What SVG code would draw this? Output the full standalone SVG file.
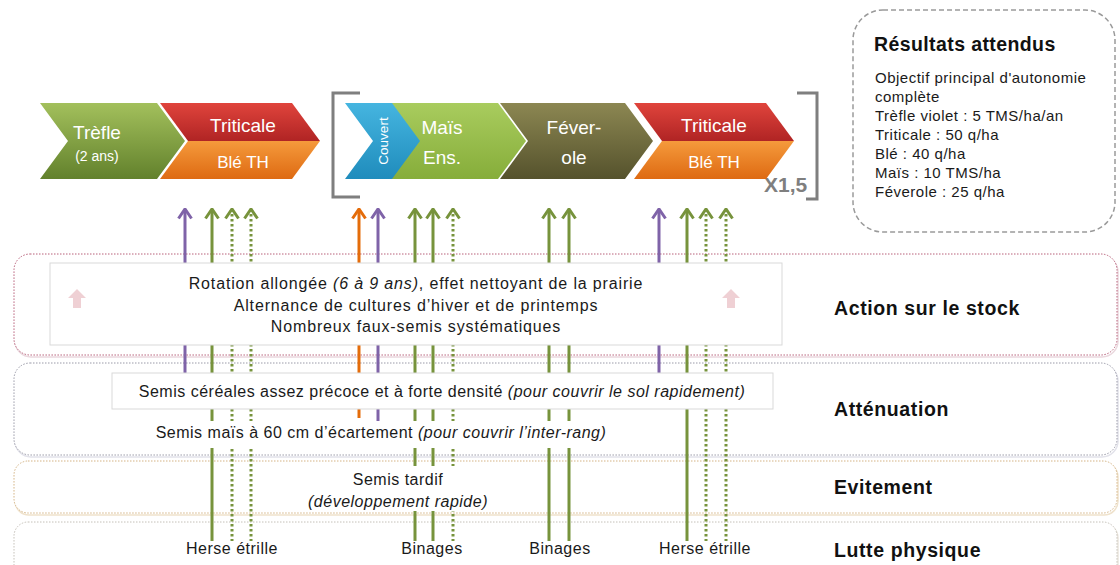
<svg xmlns="http://www.w3.org/2000/svg" width="1120" height="565" viewBox="0 0 1120 565">
<style>
text{font-family:"Liberation Sans",Arial,sans-serif;}
.w{fill:#fff;font-size:19px;text-anchor:middle;}
.ws{fill:#fff;font-size:14px;text-anchor:middle;}
.wb{fill:#fff;font-size:17px;text-anchor:middle;}
.t{fill:#1a1a1a;font-size:16px;letter-spacing:0.5px;text-anchor:middle;}
.t2{letter-spacing:0.85px;}
.r{fill:#1a1a1a;font-size:15px;letter-spacing:0.5px;}
.lab{fill:#111;font-size:19.5px;letter-spacing:0.6px;font-weight:bold;}
.box{fill:#fff;stroke:#d9d9d9;stroke-width:1;}
.cov{fill:#fff;}
.ap{stroke:#7f63a8;stroke-width:3;fill:none;marker-start:url(#hp);}
.ag{stroke:#77933c;stroke-width:3;fill:none;marker-start:url(#hg);}
.ao{stroke:#e46c0a;stroke-width:3;fill:none;marker-start:url(#ho);}
.ad{stroke:#77933c;stroke-width:3;fill:none;stroke-dasharray:2.5 2.5;marker-start:url(#hg);}
.pk{fill:#efd0d4;}
</style>
<defs>
<marker id="hp" viewBox="0 0 16 13" refX="8" refY="1.5" markerWidth="16" markerHeight="13" markerUnits="userSpaceOnUse" orient="0"><path d="M1.5,11 L8,1.5 L14.5,11" fill="none" stroke="#7f63a8" stroke-width="3"/></marker>
<marker id="hg" viewBox="0 0 16 13" refX="8" refY="1.5" markerWidth="16" markerHeight="13" markerUnits="userSpaceOnUse" orient="0"><path d="M1.5,11 L8,1.5 L14.5,11" fill="none" stroke="#77933c" stroke-width="3"/></marker>
<marker id="ho" viewBox="0 0 16 13" refX="8" refY="1.5" markerWidth="16" markerHeight="13" markerUnits="userSpaceOnUse" orient="0"><path d="M1.5,11 L8,1.5 L14.5,11" fill="none" stroke="#e46c0a" stroke-width="3"/></marker>
<linearGradient id="gGreen" x1="0" y1="0" x2="0" y2="1"><stop offset="0" stop-color="#a3c05c"/><stop offset="1" stop-color="#62812c"/></linearGradient>
<linearGradient id="gRed" x1="0" y1="0" x2="0" y2="1"><stop offset="0" stop-color="#e0443c"/><stop offset="1" stop-color="#b02424"/></linearGradient>
<linearGradient id="gOrange" x1="0" y1="0" x2="0" y2="1"><stop offset="0" stop-color="#f59a3c"/><stop offset="1" stop-color="#de6a12"/></linearGradient>
<linearGradient id="gBlue" x1="0" y1="0" x2="0" y2="1"><stop offset="0" stop-color="#45b5e0"/><stop offset="1" stop-color="#1f8cbc"/></linearGradient>
<linearGradient id="gLime" x1="0" y1="0" x2="0" y2="1"><stop offset="0" stop-color="#a9cc5e"/><stop offset="1" stop-color="#86ad3a"/></linearGradient>
<linearGradient id="gOlive" x1="0" y1="0" x2="0" y2="1"><stop offset="0" stop-color="#8c8752"/><stop offset="1" stop-color="#55522c"/></linearGradient>
</defs>

<!-- bands -->
<g id="band-stock">
<rect x="15" y="256" width="1103" height="101" rx="16" fill="none" stroke="#ead8de" stroke-width="1.5"/>
<rect x="14" y="254" width="1103" height="101" rx="16" fill="#fff" stroke="#b8607a" stroke-width="1" stroke-dasharray="1.5 1.5"/>
<text class="lab" x="834" y="315">Action sur le stock</text>
</g>
<g id="band-attenuation">
<rect x="15" y="365" width="1103" height="92" rx="16" fill="none" stroke="#e2e2ea" stroke-width="1.5"/>
<rect x="14" y="363" width="1103" height="92" rx="16" fill="#fff" stroke="#9a9aa8" stroke-width="1" stroke-dasharray="1.5 1.5"/>
<text class="lab" x="834" y="416">Atténuation</text>
</g>
<g id="band-evitement">
<rect x="15" y="463" width="1103" height="52" rx="14" fill="none" stroke="#efe2cc" stroke-width="1.5"/>
<rect x="14" y="461" width="1103" height="52" rx="14" fill="#fff" stroke="#d4b384" stroke-width="1" stroke-dasharray="1.5 1.5"/>
<text class="lab" x="834" y="494">Evitement</text>
</g>
<g id="band-lutte">
<rect x="15" y="524" width="1103" height="60" rx="14" fill="none" stroke="#ece6de" stroke-width="1.5"/>
<rect x="14" y="522" width="1103" height="60" rx="14" fill="#fff" stroke="#c4c0b8" stroke-width="1" stroke-dasharray="1.5 1.5"/>
<text class="lab" x="834" y="557">Lutte physique</text>
</g>

<!-- connectors -->
<g id="connectors">
<path class="ap" d="M185,209 V390"/>
<path class="ag" d="M212,209 V541"/>
<path class="ad" d="M232,209 V541"/>
<path class="ad" d="M251,209 V541"/>
<path class="ao" d="M359,209 V418"/>
<path class="ap" d="M378,209 V421"/>
<path class="ag" d="M415,209 V541"/>
<path class="ag" d="M433,209 V541"/>
<path class="ad" d="M453,209 V541"/>
<path class="ag" d="M549,209 V541"/>
<path class="ag" d="M569,209 V541"/>
<path class="ap" d="M659,209 V390"/>
<path class="ag" d="M687,209 V541"/>
<path class="ad" d="M706,209 V541"/>
<path class="ad" d="M726,209 V541"/>
</g>

<!-- text boxes over connectors -->
<g id="stock-box">
<rect class="box" x="50" y="263" width="732" height="82"/>
<text class="t t2" x="416" y="289">Rotation allongée <tspan font-style="italic">(6 à 9 ans)</tspan>, effet nettoyant de la prairie</text>
<text class="t t2" x="416" y="311">Alternance de cultures d’hiver et de printemps</text>
<text class="t t2" x="416" y="332">Nombreux faux-semis systématiques</text>
<polygon class="pk" points="77,289 86,298 81,298 81,308 73,308 73,298 68,298"/>
<polygon class="pk" points="731,289 740,298 735,298 735,308 727,308 727,298 722,298"/>
</g>
<g id="cereales-box">
<rect class="box" x="112" y="373" width="661" height="36"/>
<text class="t" x="442" y="397">Semis céréales assez précoce et à forte densité <tspan font-style="italic">(pour couvrir le sol rapidement)</tspan></text>
</g>
<g id="mais-text">
<rect class="cov" x="145" y="421" width="472" height="27"/>
<text class="t" x="381" y="438">Semis maïs à 60 cm d’écartement <tspan font-style="italic">(pour couvrir l’inter-rang)</tspan></text>
</g>
<g id="tardif-text">
<rect class="cov" x="298" y="466" width="200" height="45"/>
<text class="t" x="398" y="485">Semis tardif</text>
<text class="t" x="398" y="507" font-style="italic">(développement rapide)</text>
</g>
<g id="lutte-labels">
<text class="t" x="232" y="554">Herse étrille</text>
<text class="t" x="432" y="554">Binages</text>
<text class="t" x="560" y="554">Binages</text>
<text class="t" x="705" y="554">Herse étrille</text>
</g>

<!-- rotation chevrons -->
<g id="trefle">
<polygon points="40,103 157,103 185,141 157,179 40,179 68,141" fill="url(#gGreen)"/>
<text class="w" x="97" y="139">Trèfle</text>
<text class="ws" x="97" y="161">(2 ans)</text>
</g>
<g id="triticale1">
<polygon points="160,103 292,103 320,141 188,141" fill="url(#gRed)"/>
<polygon points="188,141 320,141 292,179 160,179" fill="url(#gOrange)"/>
<text class="w" x="243" y="132">Triticale</text>
<text class="wb" x="243" y="168">Blé TH</text>
</g>
<g id="bracket">
<path d="M360,93 H333 V197 H360" fill="none" stroke="#7f7f7f" stroke-width="3"/>
<path d="M797,93 H817 V199 H806" fill="none" stroke="#7f7f7f" stroke-width="3"/>
<text x="764" y="192" fill="#7f7f7f" font-size="21" font-weight="bold">X1,5</text>
</g>
<g id="mais">
<polygon points="392,103 498,103 526,141 498,179 392,179" fill="url(#gLime)"/>
<text class="w" x="442" y="134">Maïs</text>
<text class="w" x="442" y="164">Ens.</text>
</g>
<g id="couvert">
<polygon points="345,103 392,103 420,141 392,179 345,179 373,141" fill="url(#gBlue)"/>
<text class="ws" transform="translate(388,141) rotate(-90)" style="font-size:13.5px">Couvert</text>
</g>
<g id="feverole">
<polygon points="500,103 625,103 653,141 625,179 500,179 528,141" fill="url(#gOlive)"/>
<text class="w" x="574" y="134">Féver-</text>
<text class="w" x="574" y="164">ole</text>
</g>
<g id="triticale2">
<polygon points="634,103 766,103 794,141 662,141" fill="url(#gRed)"/>
<polygon points="662,141 794,141 766,179 634,179" fill="url(#gOrange)"/>
<text class="w" x="714" y="132">Triticale</text>
<text class="wb" x="714" y="168">Blé TH</text>
</g>

<!-- results -->
<g id="resultats">
<rect x="853" y="10" width="262" height="222" rx="30" fill="#fff" stroke="#9a9a9a" stroke-width="1.5" stroke-dasharray="5 3"/>
<text x="874" y="51" fill="#111" font-size="19.5" letter-spacing="0.4" font-weight="bold">Résultats attendus</text>
<text class="r" x="875" y="83">Objectif principal d'autonomie</text>
<text class="r" x="875" y="102">complète</text>
<text class="r" x="875" y="121">Trèfle violet : 5 TMS/ha/an</text>
<text class="r" x="875" y="140">Triticale : 50 q/ha</text>
<text class="r" x="875" y="159">Blé : 40 q/ha</text>
<text class="r" x="875" y="178">Maïs : 10 TMS/ha</text>
<text class="r" x="875" y="197">Féverole : 25 q/ha</text>
</g>
</svg>
